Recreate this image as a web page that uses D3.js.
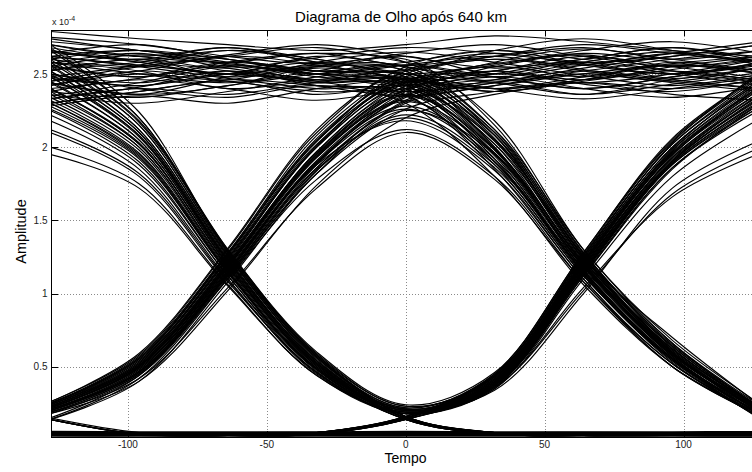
<!DOCTYPE html>
<html>
<head>
<meta charset="utf-8">
<script src="https://cdn.jsdelivr.net/npm/d3@7"></script>
<style>
  body { margin: 0; background: #fff; }
  svg { display: block; font-family: "Liberation Sans", Arial, Helvetica, sans-serif; }
</style>
</head>
<body>
<svg id="chart" width="752" height="472"></svg>
<script>
// ---- labels and ticks ----
const titleText = "Diagrama de Olho após 640 km";
const xLabelText = "Tempo";
const yLabelText = "Amplitude";
const xTicks = [-100, -50, 0, 50, 100];
const xTickLabels = ["-100", "-50", "0", "50", "100"];
const yTicks = [0.5, 1, 1.5, 2, 2.5];
const yTickLabels = ["0.5", "1", "1.5", "2", "2.5"];
const yExponent = "-4";

// sample instants of every trace (two bit periods, centred on a decision instant)
const sampleTimes = [-128, -96, -64, -32, 0, 32, 64, 96, 128];

// trace amplitudes (x 1e-4), grouped by the bit pattern at t = -128, 0, 128
const tracesHHH = [
  [2.52, 2.60, 2.48, 2.55, 2.62, 2.50, 2.58, 2.47, 2.55],
  [2.40, 2.47, 2.58, 2.50, 2.42, 2.55, 2.63, 2.52, 2.44],
  [2.66, 2.58, 2.50, 2.62, 2.55, 2.45, 2.52, 2.60, 2.66],
  [2.30, 2.38, 2.45, 2.36, 2.44, 2.52, 2.43, 2.38, 2.47],
  [2.75, 2.70, 2.62, 2.57, 2.64, 2.70, 2.62, 2.55, 2.60],
  [2.58, 2.52, 2.40, 2.46, 2.53, 2.60, 2.56, 2.64, 2.58],
  [2.45, 2.55, 2.62, 2.68, 2.58, 2.48, 2.40, 2.48, 2.57],
  [2.62, 2.66, 2.56, 2.45, 2.38, 2.44, 2.54, 2.62, 2.70],
  [2.36, 2.30, 2.38, 2.48, 2.56, 2.62, 2.53, 2.45, 2.40],
  [2.70, 2.62, 2.68, 2.60, 2.50, 2.57, 2.66, 2.72, 2.64],
  [2.50, 2.44, 2.52, 2.42, 2.35, 2.42, 2.50, 2.56, 2.52],
  [2.79, 2.74, 2.70, 2.66, 2.70, 2.76, 2.72, 2.66, 2.62],
  [2.55, 2.63, 2.57, 2.50, 2.46, 2.38, 2.45, 2.53, 2.61],
  [2.42, 2.50, 2.46, 2.58, 2.65, 2.58, 2.49, 2.42, 2.50],
  [2.60, 2.55, 2.63, 2.70, 2.62, 2.54, 2.60, 2.68, 2.58],
  [2.33, 2.41, 2.52, 2.44, 2.48, 2.40, 2.33, 2.40, 2.48],
  [2.68, 2.59, 2.54, 2.61, 2.68, 2.64, 2.57, 2.50, 2.58],
  [2.48, 2.56, 2.66, 2.60, 2.52, 2.66, 2.74, 2.66, 2.56],
  [2.44, 2.36, 2.42, 2.54, 2.47, 2.40, 2.46, 2.58, 2.50],
  [2.64, 2.70, 2.60, 2.52, 2.58, 2.66, 2.60, 2.52, 2.46],
  [2.28, 2.35, 2.30, 2.40, 2.46, 2.38, 2.44, 2.36, 2.32],
  [2.56, 2.48, 2.58, 2.64, 2.56, 2.62, 2.68, 2.60, 2.66],
  [2.72, 2.66, 2.58, 2.50, 2.56, 2.48, 2.56, 2.64, 2.72],
  [2.38, 2.46, 2.40, 2.32, 2.40, 2.50, 2.58, 2.50, 2.42],
  [2.53, 2.58, 2.66, 2.58, 2.44, 2.52, 2.46, 2.55, 2.62],
  [2.47, 2.42, 2.50, 2.58, 2.50, 2.44, 2.36, 2.46, 2.54]
];
const tracesHHL = [
  [2.55, 2.48, 2.56, 2.50, 2.45, 2.02, 1.20, 0.58, 0.20],
  [2.42, 2.52, 2.45, 2.38, 2.35, 1.88, 1.12, 0.55, 0.18],
  [2.65, 2.58, 2.50, 2.55, 2.52, 2.10, 1.25, 0.62, 0.22],
  [2.35, 2.44, 2.55, 2.48, 2.40, 1.95, 1.18, 0.60, 0.16],
  [2.70, 2.62, 2.58, 2.64, 2.58, 2.18, 1.30, 0.68, 0.24],
  [2.50, 2.40, 2.34, 2.42, 2.30, 1.80, 1.08, 0.52, 0.15],
  [2.60, 2.66, 2.60, 2.52, 2.48, 2.05, 1.22, 0.64, 0.20],
  [2.45, 2.52, 2.62, 2.56, 2.43, 1.92, 1.15, 0.56, 0.14],
  [2.38, 2.34, 2.42, 2.50, 2.55, 2.12, 1.27, 0.66, 0.21],
  [2.62, 2.55, 2.47, 2.40, 2.38, 1.90, 1.17, 0.57, 0.17],
  [2.52, 2.60, 2.52, 2.45, 2.50, 2.00, 1.21, 0.61, 0.19],
  [2.74, 2.66, 2.60, 2.52, 2.46, 2.08, 1.24, 0.70, 0.23],
  [2.30, 2.38, 2.46, 2.42, 2.36, 1.85, 1.10, 0.50, 0.16],
  [2.58, 2.50, 2.44, 2.52, 2.60, 2.15, 1.28, 0.63, 0.20],
  [2.48, 2.42, 2.50, 2.44, 2.42, 1.96, 1.19, 0.59, 0.19],
  [2.66, 2.60, 2.68, 2.58, 2.54, 2.08, 1.23, 0.62, 0.21],
  [2.33, 2.40, 2.36, 2.44, 2.46, 2.00, 1.16, 0.55, 0.17],
  [2.57, 2.64, 2.54, 2.46, 2.40, 1.94, 1.14, 0.54, 0.15],
  [2.44, 2.36, 2.48, 2.56, 2.52, 2.06, 1.26, 0.65, 0.22],
  [2.62, 2.56, 2.50, 2.46, 2.44, 1.98, 1.19, 0.60, 0.18]
];
const tracesHLH = [
  [2.40, 2.02, 1.20, 0.50, 0.20, 0.40, 1.20, 1.95, 2.40],
  [2.25, 1.90, 1.12, 0.46, 0.18, 0.36, 1.12, 1.85, 2.30],
  [2.55, 2.12, 1.26, 0.56, 0.22, 0.44, 1.26, 2.02, 2.48],
  [2.00, 1.75, 1.06, 0.44, 0.19, 0.38, 1.16, 1.90, 2.35],
  [2.62, 2.18, 1.30, 0.60, 0.24, 0.46, 1.28, 2.06, 2.50],
  [2.32, 1.96, 1.16, 0.48, 0.19, 0.37, 1.14, 1.88, 2.28],
  [2.48, 2.08, 1.24, 0.54, 0.21, 0.42, 1.22, 1.98, 2.44],
  [2.18, 1.85, 1.10, 0.45, 0.18, 0.35, 1.10, 1.80, 2.20],
  [2.70, 2.24, 1.28, 0.58, 0.23, 0.43, 1.24, 2.00, 2.45],
  [2.36, 2.00, 1.18, 0.52, 0.20, 0.41, 1.19, 1.93, 2.38],
  [1.95, 1.72, 1.05, 0.44, 0.18, 0.39, 1.17, 1.91, 2.33],
  [2.58, 2.15, 1.27, 0.57, 0.22, 0.45, 1.25, 2.03, 2.52],
  [2.44, 2.05, 1.21, 0.52, 0.21, 0.41, 1.21, 1.96, 2.42],
  [2.28, 1.93, 1.14, 0.48, 0.19, 0.38, 1.15, 1.89, 2.31],
  [2.52, 2.10, 1.23, 0.54, 0.21, 0.43, 1.23, 1.99, 2.47],
  [2.12, 1.82, 1.09, 0.46, 0.18, 0.37, 1.13, 1.86, 2.26],
  [2.66, 2.20, 1.29, 0.59, 0.23, 0.44, 1.27, 2.04, 2.49],
  [2.40, 2.03, 1.19, 0.51, 0.20, 0.40, 1.18, 1.92, 2.36],
  [2.30, 1.94, 1.15, 0.49, 0.20, 0.36, 1.02, 1.68, 2.00],
  [2.50, 2.08, 1.22, 0.53, 0.21, 0.34, 1.00, 1.72, 2.05]
];
const tracesHLL = [
  [2.45, 2.05, 1.22, 0.52, 0.15, 0.04, 0.03, 0.03, 0.04],
  [2.30, 1.95, 1.15, 0.48, 0.14, 0.04, 0.03, 0.04, 0.03],
  [2.60, 2.15, 1.28, 0.56, 0.16, 0.05, 0.03, 0.03, 0.03],
  [2.10, 1.80, 1.08, 0.46, 0.14, 0.04, 0.04, 0.03, 0.03],
  [2.52, 2.10, 1.25, 0.55, 0.16, 0.05, 0.04, 0.03, 0.04],
  [2.38, 2.00, 1.18, 0.50, 0.15, 0.04, 0.03, 0.03, 0.03],
  [2.68, 2.20, 1.30, 0.58, 0.16, 0.05, 0.03, 0.04, 0.03],
  [2.22, 1.88, 1.12, 0.47, 0.14, 0.04, 0.03, 0.03, 0.04],
  [2.56, 2.12, 1.26, 0.54, 0.15, 0.04, 0.03, 0.03, 0.03],
  [2.34, 1.98, 1.17, 0.49, 0.15, 0.05, 0.04, 0.03, 0.03],
  [2.48, 2.07, 1.23, 0.53, 0.15, 0.05, 0.03, 0.03, 0.03],
  [2.26, 1.92, 1.14, 0.48, 0.14, 0.04, 0.03, 0.03, 0.04],
  [2.62, 2.17, 1.29, 0.57, 0.16, 0.05, 0.04, 0.03, 0.03],
  [2.40, 2.02, 1.20, 0.51, 0.15, 0.04, 0.03, 0.04, 0.03]
];
const tracesLHH = [
  [0.22, 0.50, 1.20, 1.95, 2.42, 2.55, 2.48, 2.56, 2.50],
  [0.20, 0.46, 1.13, 1.86, 2.30, 2.42, 2.50, 2.44, 2.38],
  [0.25, 0.55, 1.27, 2.04, 2.48, 2.60, 2.52, 2.45, 2.55],
  [0.14, 0.42, 1.10, 1.84, 2.32, 2.46, 2.58, 2.65, 2.56],
  [0.24, 0.53, 1.23, 2.00, 2.45, 2.52, 2.62, 2.55, 2.47],
  [0.21, 0.48, 1.17, 1.91, 2.36, 2.48, 2.40, 2.34, 2.42],
  [0.26, 0.59, 1.31, 2.12, 2.55, 2.66, 2.58, 2.62, 2.70],
  [0.19, 0.45, 1.12, 1.82, 2.26, 2.38, 2.46, 2.52, 2.45],
  [0.23, 0.51, 1.19, 1.94, 2.40, 2.58, 2.67, 2.60, 2.52],
  [0.22, 0.49, 1.16, 1.90, 2.34, 2.44, 2.36, 2.43, 2.51],
  [0.25, 0.56, 1.26, 2.06, 2.50, 2.62, 2.70, 2.64, 2.58],
  [0.15, 0.44, 1.14, 1.88, 2.38, 2.50, 2.44, 2.50, 2.60],
  [0.23, 0.52, 1.21, 1.97, 2.44, 2.56, 2.64, 2.58, 2.50],
  [0.21, 0.47, 1.15, 1.89, 2.35, 2.46, 2.40, 2.48, 2.56],
  [0.24, 0.54, 1.24, 2.01, 2.46, 2.40, 2.48, 2.57, 2.62],
  [0.20, 0.46, 1.13, 1.86, 2.31, 2.44, 2.52, 2.46, 2.40],
  [0.25, 0.57, 1.28, 2.08, 2.52, 2.64, 2.56, 2.50, 2.58],
  [0.22, 0.50, 1.18, 1.93, 2.39, 2.52, 2.60, 2.68, 2.60],
  [0.18, 0.40, 1.02, 1.74, 2.20, 2.36, 2.44, 2.40, 2.46]
];
const tracesLHL = [
  [0.22, 0.50, 1.20, 1.95, 2.35, 1.98, 1.20, 0.58, 0.20],
  [0.20, 0.46, 1.12, 1.85, 2.20, 1.86, 1.12, 0.54, 0.18],
  [0.25, 0.56, 1.28, 2.05, 2.45, 2.08, 1.26, 0.62, 0.22],
  [0.18, 0.44, 1.10, 1.78, 2.12, 1.80, 1.08, 0.50, 0.16],
  [0.24, 0.52, 1.22, 2.00, 2.40, 2.02, 1.24, 0.60, 0.21],
  [0.21, 0.48, 1.16, 1.90, 2.28, 1.92, 1.16, 0.56, 0.19],
  [0.26, 0.58, 1.30, 2.10, 2.50, 2.12, 1.30, 0.66, 0.23],
  [0.14, 0.40, 1.08, 1.82, 2.25, 1.95, 1.18, 0.57, 0.15],
  [0.23, 0.51, 1.19, 1.93, 2.32, 1.90, 1.14, 0.55, 0.14],
  [0.20, 0.47, 1.14, 1.88, 2.18, 1.84, 1.10, 0.52, 0.17],
  [0.25, 0.54, 1.25, 2.02, 2.42, 1.99, 1.21, 0.59, 0.20],
  [0.22, 0.49, 1.18, 1.97, 2.38, 2.05, 1.25, 0.61, 0.22],
  [0.23, 0.51, 1.21, 1.96, 2.36, 1.99, 1.21, 0.59, 0.20],
  [0.21, 0.47, 1.15, 1.89, 2.26, 1.90, 1.15, 0.55, 0.18],
  [0.24, 0.53, 1.24, 2.01, 2.43, 2.04, 1.23, 0.60, 0.21],
  [0.19, 0.45, 1.11, 1.84, 2.22, 1.88, 1.13, 0.53, 0.15],
  [0.25, 0.55, 1.27, 2.04, 2.47, 2.10, 1.28, 0.64, 0.22],
  [0.22, 0.50, 1.19, 1.94, 2.31, 1.96, 1.19, 0.58, 0.19],
  [0.19, 0.42, 1.04, 1.72, 2.10, 1.78, 1.06, 0.50, 0.17]
];
const tracesLLH = [
  [0.03, 0.03, 0.03, 0.04, 0.15, 0.40, 1.20, 1.95, 2.38],
  [0.14, 0.04, 0.03, 0.04, 0.14, 0.37, 1.14, 1.88, 2.30],
  [0.03, 0.03, 0.04, 0.05, 0.16, 0.44, 1.26, 2.02, 2.46],
  [0.04, 0.03, 0.03, 0.04, 0.15, 0.38, 1.16, 1.90, 2.34],
  [0.15, 0.05, 0.03, 0.05, 0.16, 0.42, 1.22, 1.98, 2.42],
  [0.03, 0.04, 0.03, 0.04, 0.14, 0.36, 1.12, 1.86, 2.28],
  [0.03, 0.03, 0.03, 0.05, 0.16, 0.45, 1.28, 2.05, 2.50],
  [0.14, 0.04, 0.04, 0.04, 0.15, 0.39, 1.18, 1.93, 2.36],
  [0.03, 0.03, 0.03, 0.04, 0.15, 0.41, 1.21, 1.96, 2.40],
  [0.04, 0.03, 0.04, 0.05, 0.15, 0.40, 1.19, 1.94, 2.44],
  [0.03, 0.03, 0.03, 0.05, 0.15, 0.41, 1.22, 1.97, 2.41],
  [0.04, 0.04, 0.03, 0.04, 0.14, 0.38, 1.15, 1.89, 2.32],
  [0.14, 0.04, 0.03, 0.05, 0.16, 0.43, 1.24, 2.00, 2.45],
  [0.03, 0.03, 0.04, 0.04, 0.15, 0.39, 1.17, 1.91, 2.37],
  [0.03, 0.03, 0.03, 0.04, 0.14, 0.35, 1.04, 1.66, 1.96]
];
const tracesLLL = [
  [0.022, 0.022, 0.022, 0.022, 0.022, 0.022, 0.022, 0.022, 0.022],
  [0.030, 0.030, 0.030, 0.030, 0.030, 0.030, 0.030, 0.030, 0.030],
  [0.037, 0.037, 0.037, 0.037, 0.037, 0.037, 0.037, 0.037, 0.037],
  [0.044, 0.044, 0.044, 0.044, 0.044, 0.044, 0.044, 0.044, 0.044],
  [0.052, 0.050, 0.050, 0.052, 0.050, 0.050, 0.052, 0.050, 0.050],
  [0.058, 0.056, 0.055, 0.056, 0.058, 0.056, 0.055, 0.056, 0.058],
  [0.14, 0.04, 0.03, 0.03, 0.03, 0.04, 0.03, 0.03, 0.03],
  [0.03, 0.04, 0.05, 0.04, 0.03, 0.04, 0.05, 0.04, 0.03]
];

const traceGroups = [tracesHHH, tracesHHL, tracesHLH, tracesHLL,
                     tracesLHH, tracesLHL, tracesLLH, tracesLLL];

// ---- layout ----
const plot = { left: 51.5, right: 759.9, top: 30, bottom: 437 };

const x = d3.scaleLinear().domain([-127.5, 127.5]).range([plot.left, plot.right]);
const y = d3.scaleLinear().domain([0.02, 2.8]).range([plot.bottom, plot.top]);

const svg = d3.select("#chart");

svg.append("defs").append("clipPath").attr("id", "plotClip")
  .append("rect")
  .attr("x", plot.left).attr("y", plot.top)
  .attr("width", plot.right - plot.left).attr("height", plot.bottom - plot.top);

// dotted grid
const grid = svg.append("g").attr("stroke", "#8a8a8a").attr("stroke-width", 1)
  .attr("stroke-dasharray", "1,2").attr("shape-rendering", "crispEdges");
grid.selectAll("line.gx").data(xTicks).join("line").attr("class", "gx")
  .attr("x1", d => Math.round(x(d)) + 0.5).attr("x2", d => Math.round(x(d)) + 0.5)
  .attr("y1", plot.top).attr("y2", plot.bottom);
grid.selectAll("line.gy").data(yTicks).join("line").attr("class", "gy")
  .attr("y1", d => Math.round(y(d)) + 0.5).attr("y2", d => Math.round(y(d)) + 0.5)
  .attr("x1", plot.left).attr("x2", plot.right);

// eye traces
const line = d3.line()
  .x((d, i) => x(sampleTimes[i]))
  .y(d => y(d))
  .curve(d3.curveCatmullRom.alpha(0.5));

const traces = svg.append("g").attr("clip-path", "url(#plotClip)")
  .attr("fill", "none").attr("stroke", "#000").attr("stroke-width", 1.15);
traceGroups.forEach(group => {
  traces.append("g").selectAll("path").data(group).join("path").attr("d", line);
});

// axes box with inward ticks
const axes = svg.append("g").attr("shape-rendering", "crispEdges");
axes.append("rect")
  .attr("x", plot.left).attr("y", plot.top)
  .attr("width", plot.right - plot.left).attr("height", plot.bottom - plot.top)
  .attr("fill", "none").attr("stroke", "#000").attr("stroke-width", 1);

const tickLen = 6;
axes.selectAll("line.tb").data(xTicks).join("line").attr("class", "tb")
  .attr("x1", d => Math.round(x(d)) + 0.5).attr("x2", d => Math.round(x(d)) + 0.5)
  .attr("y1", plot.bottom).attr("y2", plot.bottom - tickLen).attr("stroke", "#000");
axes.selectAll("line.tt").data(xTicks).join("line").attr("class", "tt")
  .attr("x1", d => Math.round(x(d)) + 0.5).attr("x2", d => Math.round(x(d)) + 0.5)
  .attr("y1", plot.top).attr("y2", plot.top + tickLen).attr("stroke", "#000");
axes.selectAll("line.tl").data(yTicks).join("line").attr("class", "tl")
  .attr("y1", d => Math.round(y(d)) + 0.5).attr("y2", d => Math.round(y(d)) + 0.5)
  .attr("x1", plot.left).attr("x2", plot.left + tickLen).attr("stroke", "#000");

// tick labels
svg.append("g").attr("font-size", 10).attr("fill", "#222").attr("text-anchor", "middle")
  .selectAll("text").data(xTicks).join("text")
  .attr("x", d => x(d)).attr("y", 448)
  .text((d, i) => xTickLabels[i]);
svg.append("g").attr("font-size", 10).attr("fill", "#222").attr("text-anchor", "end")
  .selectAll("text").data(yTicks).join("text")
  .attr("x", 47.5).attr("y", d => y(d) + 3.6)
  .text((d, i) => yTickLabels[i]);

// exponent label
const expo = svg.append("text").attr("x", 52).attr("y", 25).attr("font-size", 9).attr("fill", "#222");
expo.append("tspan").text("x 10");
expo.append("tspan").attr("dy", -4).attr("font-size", 7).text(yExponent);

// title and axis labels
svg.append("text").attr("x", 401).attr("y", 21.5).attr("text-anchor", "middle")
  .attr("font-size", 15).attr("fill", "#000").text(titleText);
svg.append("text").attr("x", 405.5).attr("y", 463).attr("text-anchor", "middle")
  .attr("font-size", 14).attr("fill", "#000").text(xLabelText);
svg.append("text").attr("transform", "translate(26,231.5) rotate(-90)")
  .attr("text-anchor", "middle").attr("font-size", 14.5).attr("fill", "#000").text(yLabelText);
</script>
</body>
</html>
